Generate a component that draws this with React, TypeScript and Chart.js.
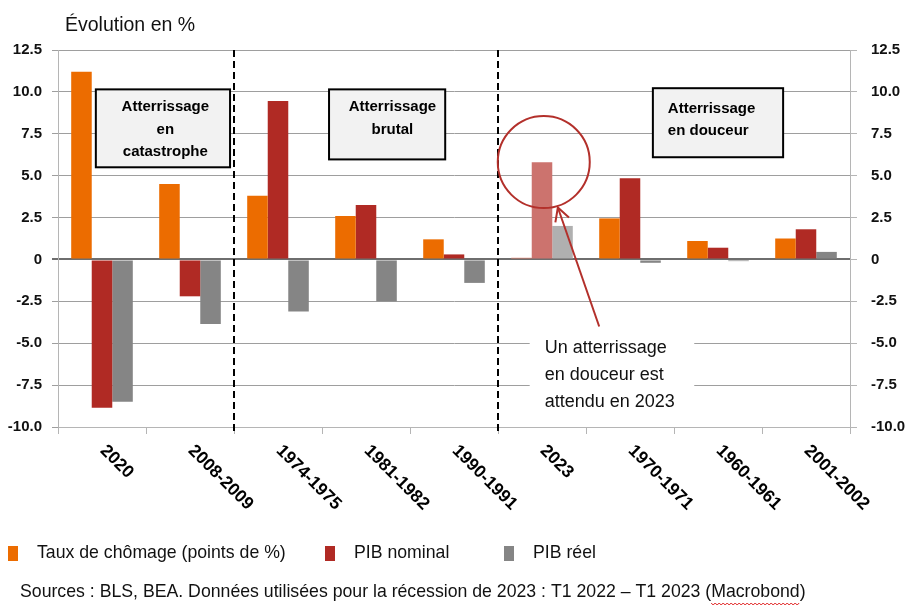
import { useEffect, useRef } from 'react';
import { Chart, registerables } from 'chart.js';

Chart.register(...registerables);

// Recession episodes, ordered by landing type
const categories = ['2020', '2008-2009', '1974-1975', '1981-1982', '1990-1991', '2023', '1970-1971', '1960-1961', '2001-2002'];
const tauxChomage = [11.2, 4.5, 3.8, 2.6, 1.2, 0.1, 2.45, 1.1, 1.25];
const pibNominal = [-8.85, -2.2, 9.45, 3.25, 0.3, 5.8, 4.85, 0.7, 1.8];
const pibReel = [-8.5, -3.85, -3.1, -2.5, -1.4, 2.0, -0.2, -0.1, 0.45];

const yTickValues = [12.5, 10, 7.5, 5, 2.5, 0, -2.5, -5, -7.5, -10];
const yTickLabels = ['12.5', '10.0', '7.5', '5.0', '2.5', '0', '-2.5', '-5.0', '-7.5', '-10.0'];

const seriesNames = ['Taux de chômage (points de %)', 'PIB nominal', 'PIB réel'];
const baseColors = ['#EC6C00', '#B02A24', '#858585'];
const highlightColors = ['#E5806E', '#CC736E', '#B0B0B0'];
const highlightIndex = 5; // 2023 episode

const FONT = '"Liberation Sans", Arial, sans-serif';

const tickLabel = (v: number | string) => {
  const n = Number(v);
  const i = yTickValues.findIndex((t) => Math.abs(t - n) < 1e-6);
  return i >= 0 ? yTickLabels[i] : '';
};

const colorsFor = (s: number) => categories.map((_, i) => (i === highlightIndex ? highlightColors[s] : baseColors[s]));

const annotations = {
  id: 'annotations',
  afterDatasetsDraw(chart: any) {
    const { ctx, chartArea, scales } = chart;
    const xs = scales.x;
    const ys = scales.y;
    const px = (i: number) => xs.getPixelForValue(i);
    const py = (v: number) => ys.getPixelForValue(v);

    ctx.save();

    // Dashed separators between landing groups
    ctx.strokeStyle = '#000';
    ctx.lineWidth = 2;
    ctx.setLineDash([7, 4]);
    [1.5, 4.5].forEach((b) => {
      const x = Math.round(px(b));
      ctx.beginPath();
      ctx.moveTo(x, chartArea.top);
      ctx.lineTo(x, chartArea.bottom + 6);
      ctx.stroke();
    });
    ctx.setLineDash([]);

    // Group label boxes
    const boxes = [
      { x0: -0.07, x1: 1.455, y0: 10.15, y1: 5.5, lines: ['Atterrissage', 'en', 'catastrophe'], align: 'center', tx: 0.72, first: 9.1 },
      { x0: 2.58, x1: 3.9, y0: 10.15, y1: 5.97, lines: ['Atterrissage', 'brutal'], align: 'center', tx: 3.30, first: 9.1 },
      { x0: 6.26, x1: 7.74, y0: 10.22, y1: 6.1, lines: ['Atterrissage', 'en douceur'], align: 'left', tx: 6.43, first: 9.0 },
    ];
    boxes.forEach((b) => {
      const l = px(b.x0), r = px(b.x1), t = py(b.y0), bt = py(b.y1);
      ctx.fillStyle = '#F2F2F2';
      ctx.fillRect(l, t, r - l, bt - t);
      ctx.strokeStyle = '#000';
      ctx.lineWidth = 2;
      ctx.strokeRect(l, t, r - l, bt - t);
      ctx.fillStyle = '#000';
      ctx.font = `bold 15px ${FONT}`;
      ctx.textAlign = b.align;
      ctx.textBaseline = 'middle';
      b.lines.forEach((s, k) => ctx.fillText(s, px(b.tx), py(b.first) + k * 22.5));
    });

    // Note box below the zero line
    const nl = px(4.86), nr = px(6.73), nt = py(-3.9), nb = py(-9.3);
    ctx.fillStyle = '#FFFFFF';
    ctx.fillRect(nl, nt, nr - nl, nb - nt);
    ctx.fillStyle = '#111';
    ctx.font = `18px ${FONT}`;
    ctx.textAlign = 'left';
    ctx.textBaseline = 'middle';
    ['Un atterrissage', 'en douceur est', 'attendu en 2023'].forEach((s, k) => ctx.fillText(s, px(5.03), py(-5.28) + k * 27));

    // Circle around the 2023 bars
    ctx.strokeStyle = '#B3302B';
    ctx.lineWidth = 2;
    ctx.beginPath();
    ctx.arc(px(5.02), py(5.81), 46, 0, Math.PI * 2);
    ctx.stroke();

    // Arrow from the note to the circle
    const tipX = px(5.18), tipY = py(3.1);
    const tailX = px(5.65), tailY = py(-4.0);
    ctx.beginPath();
    ctx.moveTo(tailX, tailY);
    ctx.lineTo(tipX, tipY);
    ctx.stroke();
    const ang = Math.atan2(tailY - tipY, tailX - tipX);
    const head = 15;
    ctx.beginPath();
    ctx.moveTo(tipX + head * Math.cos(ang - 0.5), tipY + head * Math.sin(ang - 0.5));
    ctx.lineTo(tipX, tipY);
    ctx.lineTo(tipX + head * Math.cos(ang + 0.5), tipY + head * Math.sin(ang + 0.5));
    ctx.stroke();

    ctx.restore();
  },
  afterDraw(chart: any) {
    const { ctx, scales } = chart;
    const xs = scales.x;
    ctx.save();

    // Rotated category labels
    ctx.fillStyle = '#000';
    ctx.font = `bold 17.5px ${FONT}`;
    ctx.textAlign = 'left';
    ctx.textBaseline = 'middle';
    categories.forEach((c, i) => {
      ctx.save();
      ctx.translate(xs.getPixelForValue(i) + 1, 448);
      ctx.rotate(Math.PI / 4);
      ctx.fillText(c, 0, 0);
      ctx.restore();
    });

    // Axis title
    ctx.font = `19.5px ${FONT}`;
    ctx.fillStyle = '#111';
    ctx.fillText('Évolution en %', 65, 26);

    // Legend
    const legendX = [8, 325, 504];
    ctx.font = `17.7px ${FONT}`;
    seriesNames.forEach((n, s) => {
      ctx.fillStyle = baseColors[s];
      ctx.fillRect(legendX[s], 546, 10, 15);
      ctx.fillStyle = '#111';
      ctx.fillText(n, legendX[s] + 29, 553);
    });

    // Source line
    const pre = 'Sources : BLS, BEA. Données utilisées pour la récession de 2023 : T1 2022 – T1 2023 (';
    const word = 'Macrobond';
    ctx.fillText(pre + word + ')', 20, 592);
    const wx = 20 + ctx.measureText(pre).width;
    const ww = ctx.measureText(word).width;
    ctx.strokeStyle = '#E02020';
    ctx.lineWidth = 1;
    ctx.beginPath();
    for (let x = 0; x <= ww; x += 2) {
      const y = 603 + (Math.floor(x / 2) % 2 === 0 ? 0 : 2);
      if (x === 0) ctx.moveTo(wx + x, y);
      else ctx.lineTo(wx + x, y);
    }
    ctx.stroke();

    ctx.restore();
  },
};

export default function App() {
  const canvasRef = useRef<HTMLCanvasElement | null>(null);

  useEffect(() => {
    if (!canvasRef.current) return;
    const yTicks = {
      stepSize: 2.5,
      color: '#111',
      font: { family: FONT, size: 15, weight: 'bold' as const },
      callback: (v: number | string) => tickLabel(v),
    };
    const chart = new Chart(canvasRef.current, {
      type: 'bar',
      data: {
        labels: categories,
        datasets: [tauxChomage, pibNominal, pibReel].map((d, s) => ({
          label: seriesNames[s],
          data: d,
          backgroundColor: colorsFor(s),
          borderWidth: 0,
          categoryPercentage: 0.7,
          barPercentage: 1.0,
        })),
      },
      options: {
        responsive: false,
        animation: false,
        layout: { padding: { top: 50, left: 0, right: 0, bottom: 0 } },
        plugins: { legend: { display: false }, tooltip: { enabled: false } },
        scales: {
          x: {
            ticks: { display: false },
            grid: { drawOnChartArea: false, drawTicks: true, tickLength: 7, color: '#B5B5B5', offset: true },
            border: { display: true, color: '#B5B5B5', width: 1 },
            afterFit: (s: any) => { s.height = 188; },
          },
          y: {
            position: 'left',
            min: -10,
            max: 12.5,
            ticks: { ...yTicks, padding: 10 },
            grid: {
              color: (c: any) => (c.tick && c.tick.value === 0 ? '#6E6E6E' : '#9E9E9E'),
              lineWidth: (c: any) => (c.tick && c.tick.value === 0 ? 2 : 1),
              tickLength: 6,
            },
            border: { display: true, color: '#B5B5B5', width: 1 },
            afterFit: (s: any) => { s.width = 58; },
          },
          y2: {
            position: 'right',
            min: -10,
            max: 12.5,
            ticks: { ...yTicks, padding: 14 },
            grid: { drawOnChartArea: false, color: '#B5B5B5', tickLength: 7 },
            border: { display: true, color: '#B5B5B5', width: 1 },
            afterFit: (s: any) => { s.width = 68; },
          },
        },
      },
      plugins: [annotations],
    });
    return () => chart.destroy();
  }, []);

  return (
    <div style={{ position: 'absolute', left: 0, top: 0, width: 918, height: 615, background: '#fff' }}>
      <canvas ref={canvasRef} width={918} height={615} style={{ display: 'block' }} />
    </div>
  );
}
